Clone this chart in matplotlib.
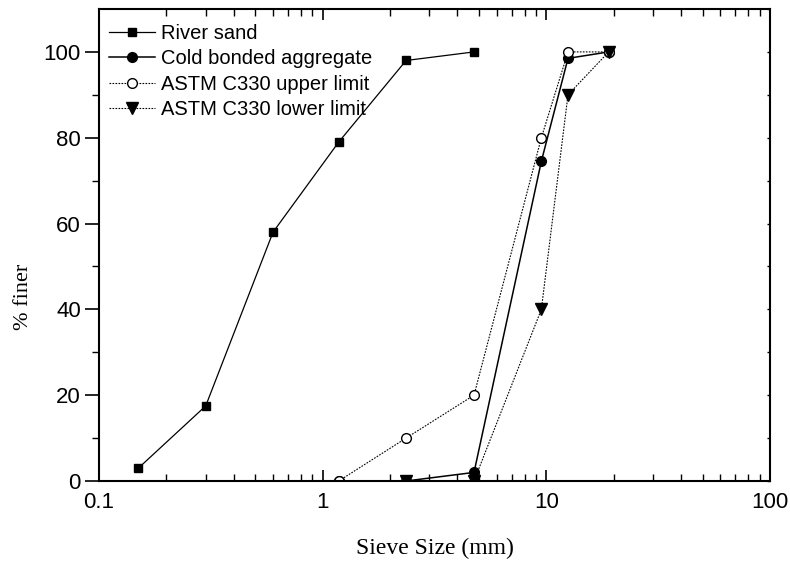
import matplotlib
matplotlib.use("Agg")
import matplotlib.pyplot as plt
from matplotlib.ticker import LogLocator, FixedLocator, NullFormatter, FuncFormatter

# Data
river_x = [0.15, 0.3, 0.6, 1.18, 2.36, 4.75]
river_y = [3, 17.5, 58, 79, 98, 100]
cold_x = [1.18, 2.36, 4.75, 9.5, 12.5, 19]
cold_y = [0, 0, 2, 74.5, 98.5, 100]
upper_x = [1.18, 2.36, 4.75, 9.5, 12.5, 19]
upper_y = [0, 10, 20, 80, 100, 100]
lower_x = [2.36, 4.75, 9.5, 12.5, 19]
lower_y = [0, 0, 40, 90, 100]

labels = ["River sand", "Cold bonded aggregate",
          "ASTM C330 upper limit", "ASTM C330 lower limit"]

fig = plt.figure(figsize=(7.9, 5.64), dpi=100)
ax = fig.add_axes([99/790, 1-481/564, (770-99)/790, (481-9)/564])

ax.plot(river_x, river_y, '-', color='black', lw=0.9, marker='s', ms=6,
        mfc='black', mec='black', label=labels[0])
ax.plot(cold_x, cold_y, '-', color='black', lw=1.1, marker='o', ms=7,
        mfc='black', mec='black', label=labels[1])
ax.plot(upper_x, upper_y, linestyle=(0, (1.5, 1.2)), color='black', lw=0.8, marker='o', ms=7,
        mfc='white', mec='black', mew=1.0, label=labels[2])
ax.plot(lower_x, lower_y, linestyle=(0, (1.5, 1.2)), color='black', lw=0.8, marker='v', ms=8,
        mfc='black', mec='black', label=labels[3])

ax.set_xscale('log')
ax.set_xlim(0.1, 100)
ax.set_ylim(0, 110)

ax.xaxis.set_major_locator(LogLocator(base=10, numticks=10))
ax.xaxis.set_minor_locator(LogLocator(base=10, subs=range(2, 10), numticks=20))
ax.xaxis.set_minor_formatter(NullFormatter())
ax.xaxis.set_major_formatter(FuncFormatter(lambda v, p: ('%g' % v)))
ax.yaxis.set_major_locator(FixedLocator([0, 20, 40, 60, 80, 100]))
ax.yaxis.set_minor_locator(FixedLocator([10, 30, 50, 70, 90]))

for sp in ax.spines.values():
    sp.set_linewidth(1.5)

ax.tick_params(axis='x', which='major', direction='in', top=True, length=8, width=1.2,
               labelsize=16, pad=8)
ax.tick_params(axis='x', which='minor', direction='in', top=True, length=5, width=1.0)
ax.tick_params(axis='y', which='major', direction='out', length=10, width=1.2, labelsize=16, pad=3)
ax.tick_params(axis='y', which='minor', direction='out', length=5, width=1.0)

for lab in ax.get_xticklabels() + ax.get_yticklabels():
    lab.set_family('Liberation Sans')

# right ticks: tiny inward
axr = ax.twinx()
axr.set_ylim(ax.get_ylim())
axr.yaxis.set_major_locator(FixedLocator(list(range(0, 111, 10))))
axr.tick_params(axis='y', direction='in', length=2, width=1.0, labelright=False)
for sp in axr.spines.values():
    sp.set_visible(False)

ax.set_xlabel('Sieve Size (mm)', family='Liberation Serif', fontsize=17)
ax.xaxis.set_label_coords(0.5, -0.143)
ax.xaxis.label.set_va('center')
ax.set_ylabel('% finer', family='Liberation Serif', fontsize=16)
ax.yaxis.set_label_coords(-0.112, 0.39)
ax.yaxis.label.set_va('center')

leg = ax.legend(loc='upper left', bbox_to_anchor=(0.0, 0.99), frameon=False,
                prop={'family': 'Liberation Sans', 'size': 14.5}, handlelength=2.3,
                handletextpad=0.3, labelspacing=0.32, borderaxespad=0.3, numpoints=1,
                borderpad=0.2)

fig.savefig('out.png', dpi=100)
